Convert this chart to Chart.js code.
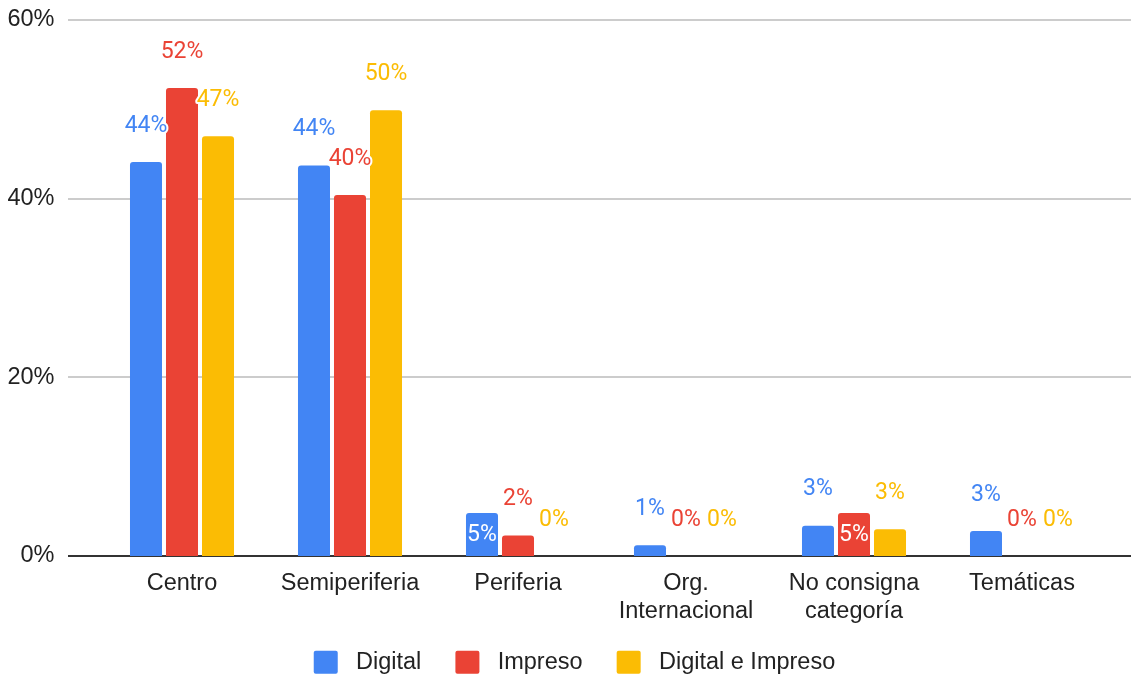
<!DOCTYPE html>
<html>
<head>
<meta charset="utf-8">
<script src="https://cdn.jsdelivr.net/npm/chart.js@4.4.1/dist/chart.umd.min.js"></script>
<style>
  html, body { margin: 0; padding: 0; background: #fff; overflow: hidden; }
  #wrap { position: relative; width: 1131px; height: 684px; }
</style>
</head>
<body>
<div id="wrap"><canvas id="chart"></canvas></div>
<script>
const categories = ["Centro", "Semiperiferia", "Periferia", ["Org.", "Internacional"], ["No consigna", "categoría"], "Temáticas"];
const seriesNames = ["Digital", "Impreso", "Digital e Impreso"];
const seriesColors = ["#4285F4", "#EA4335", "#FBBC04"];

// shares in percent
const digital = [44.1, 43.7, 4.8, 1.2, 3.4, 2.8];
const impreso = [52.4, 40.4, 2.3, 0, 4.8, 0];
const digitalImpreso = [47.0, 49.9, 0, 0, 3.0, 0];

const yTicks = [0, 20, 40, 60];

// [dataset, index] of labels drawn inside their bar
const insideLabels = [[0, 2], [1, 4]];

const AXIS_FONT = "'Liberation Sans', Arial, sans-serif";
const LABEL_FONT = "Roboto, 'Liberation Sans', sans-serif";

// horizontal rules, wider than the plot area
const gridPlugin = {
  id: "gridRules",
  beforeDatasetsDraw(chart) {
    const {ctx} = chart;
    const y = chart.scales.y;
    ctx.save();
    yTicks.forEach(v => {
      const py = Math.round(y.getPixelForValue(v));
      ctx.beginPath();
      ctx.lineWidth = 2;
      ctx.strokeStyle = v === 0 ? "#333333" : "#cccccc";
      ctx.moveTo(68, py);
      ctx.lineTo(chart.width, py);
      ctx.stroke();
    });
    ctx.restore();
  }
};

const valueLabels = {
  id: "valueLabels",
  afterDatasetsDraw(chart) {
    const {ctx} = chart;
    ctx.save();
    ctx.font = "23px " + LABEL_FONT;
    ctx.textAlign = "center";
    ctx.textBaseline = "middle";
    ctx.lineJoin = "round";
    chart.data.datasets.forEach((ds, di) => {
      chart.getDatasetMeta(di).data.forEach((bar, i) => {
        const txt = Math.round(ds.data[i]) + "%";
        const inside = insideLabels.some(p => p[0] === di && p[1] === i);
        if (inside) {
          ctx.fillStyle = "#ffffff";
          ctx.fillText(txt, bar.x, (bar.y + bar.base) / 2 + 1);
          return;
        }
        const ty = bar.y - 36;
        ctx.lineWidth = 4;
        ctx.strokeStyle = "#ffffff";
        ctx.strokeText(txt, bar.x, ty);
        ctx.fillStyle = ds.backgroundColor;
        ctx.fillText(txt, bar.x, ty);
      });
    });
    ctx.restore();
  }
};

// legend sits a little right of the canvas centre
const legendShift = {
  id: "legendShift",
  afterLayout(chart) {
    chart.legend.left = 18;
  }
};

const seriesData = [digital, impreso, digitalImpreso];
// spaces around legend text widen the gaps between box, text and next item
const legendText = (name, k) => " " + name + (k < seriesNames.length - 1 ? "   " : "");

new Chart(document.getElementById("chart"), {
  type: "bar",
  data: {
    labels: categories,
    datasets: seriesNames.map((name, k) => ({
      label: legendText(name, k),
      data: seriesData[k],
      backgroundColor: seriesColors[k],
      borderWidth: 0,
      borderRadius: 3,
      categoryPercentage: 0.643,
      barPercentage: 0.889
    }))
  },
  options: {
    responsive: true,
    maintainAspectRatio: false,
    animation: false,
    layout: { padding: { left: 0, right: 0, top: 20, bottom: 0 } },
    plugins: {
      tooltip: { enabled: false },
      legend: {
        position: "bottom",
        labels: {
          boxWidth: 24,
          boxHeight: 23,
          useBorderRadius: true,
          borderRadius: 2,
          padding: 14.5,
          color: "#222222",
          font: { family: AXIS_FONT, size: 23.5 }
        }
      }
    },
    scales: {
      x: {
        grid: { display: false },
        border: { display: false },
        ticks: {
          color: "#222222",
          padding: 6,
          maxRotation: 0,
          autoSkip: false,
          font: { family: AXIS_FONT, size: 23.5, lineHeight: 1.17 }
        },
        afterFit(scale) { scale.height = 80; }
      },
      y: {
        min: 0,
        max: 60,
        grid: { display: false, drawTicks: true, tickLength: 40 },
        border: { display: false },
        ticks: {
          stepSize: 20,
          padding: 3.5,
          color: "#222222",
          font: { family: AXIS_FONT, size: 23.5 },
          callback: v => v + "%"
        },
        afterFit(scale) { scale.width = 98; }
      },
      yRight: {
        position: "right",
        grid: { display: false, drawTicks: false },
        border: { display: false },
        ticks: { display: false },
        afterFit(scale) { scale.width = 25; }
      }
    }
  },
  plugins: [gridPlugin, valueLabels, legendShift]
});
</script>
</body>
</html>
